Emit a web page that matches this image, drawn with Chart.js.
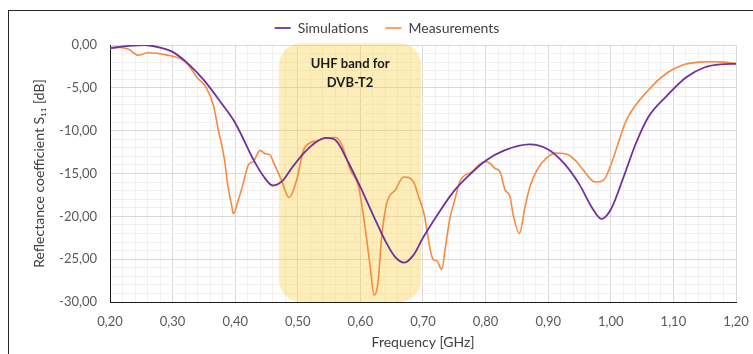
<!DOCTYPE html>
<html>
<head>
<meta charset="utf-8">
<script src="https://cdn.jsdelivr.net/npm/chart.js@4"></script>
<style>
  html, body { margin: 0; padding: 0; background: #fff; overflow: hidden; }
  #wrap { position: relative; width: 753px; height: 354px; }
  #frame { position: absolute; left: 8px; top: 10px; width: 800px; height: 400px; border: 1px solid #262626; box-sizing: border-box; pointer-events: none; }
</style>
</head>
<body>
<div id="wrap">
  <canvas id="chart" width="753" height="354"></canvas>
  <div id="frame"></div>
</div>
<script>
// Simulations (purple)
const simFreq = [0.20, 0.23, 0.255, 0.28, 0.30, 0.325, 0.35, 0.375, 0.40, 0.43, 0.445, 0.46, 0.475, 0.49, 0.51, 0.53, 0.545, 0.56, 0.58, 0.60, 0.62, 0.64, 0.655, 0.67, 0.685, 0.70, 0.725, 0.75, 0.775, 0.80, 0.83, 0.87, 0.90, 0.925, 0.95, 0.97, 0.985, 1.00, 1.02, 1.04, 1.06, 1.09, 1.12, 1.15, 1.175, 1.20];
const simS11 = [-0.35, -0.1, 0.0, -0.3, -0.8, -2.2, -4.1, -6.5, -9.1, -13.5, -15.3, -16.4, -15.9, -14.4, -12.6, -11.3, -10.85, -11.1, -13.6, -16.6, -19.8, -22.9, -24.7, -25.4, -24.5, -22.5, -19.6, -17.0, -15.1, -13.5, -12.3, -11.6, -12.2, -13.8, -16.3, -19.0, -20.3, -19.2, -15.5, -11.5, -8.4, -5.9, -3.8, -2.6, -2.25, -2.2];

// Measurements (orange)
const measFreq = [0.200, 0.215, 0.230, 0.245, 0.261, 0.290, 0.317, 0.330, 0.338, 0.354, 0.365, 0.373, 0.383, 0.387, 0.395, 0.397, 0.405, 0.413, 0.421, 0.429, 0.440, 0.448, 0.455, 0.463, 0.474, 0.486, 0.498, 0.509, 0.520, 0.530, 0.545, 0.560, 0.570, 0.584, 0.597, 0.605, 0.615, 0.622, 0.628, 0.634, 0.642, 0.656, 0.669, 0.685, 0.693, 0.701, 0.716, 0.722, 0.730, 0.736, 0.743, 0.750, 0.759, 0.778, 0.799, 0.807, 0.815, 0.823, 0.831, 0.839, 0.844, 0.854, 0.863, 0.871, 0.882, 0.897, 0.913, 0.932, 0.945, 0.956, 0.975, 0.988, 1.004, 1.017, 1.025, 1.062, 1.089, 1.116, 1.142, 1.158, 1.180, 1.200];
const measS11 = [-0.4, -0.3, -0.5, -1.2, -0.9, -1.15, -1.8, -2.8, -3.7, -5.0, -7.0, -9.9, -13.4, -15.8, -19.0, -19.7, -18.1, -16.1, -14.0, -13.6, -12.3, -12.7, -12.8, -14.0, -15.8, -17.8, -15.8, -12.3, -11.4, -11.2, -10.85, -10.8, -11.6, -14.6, -16.5, -20.0, -25.5, -29.2, -27.8, -22.4, -18.5, -16.9, -15.4, -16.0, -17.7, -19.5, -25.0, -25.2, -26.2, -23.5, -20.2, -18.3, -15.9, -14.8, -13.6, -13.8, -14.4, -14.8, -16.9, -17.7, -19.8, -22.0, -18.9, -16.5, -14.6, -13.2, -12.6, -12.8, -13.6, -14.6, -16.0, -15.8, -13.2, -10.3, -8.75, -5.1, -3.3, -2.3, -2.0, -1.95, -2.0, -2.15];

// UHF band for DVB-T2
const bandFreq = [0.47, 0.697];
const bandLabel = ['UHF band for', 'DVB-T2'];

const xTicks = { min: 0.2, max: 1.2, step: 0.02, major: 0.1 };
const yTicks = { min: -30, max: 0, step: 1, major: 5 };

const FONT = 'Lato, "Open Sans", sans-serif';
const isMajor = (v, m) => Math.abs(v / m - Math.round(v / m)) < 1e-6;
const comma = v => v.toFixed(2).replace('.', ',');

const bandPlugin = {
  id: 'band',
  afterLayout(chart) {
    // legend is centred on the (wider) outer frame in the original
    chart.legend.left += 38;
  },
  beforeDatasetsDraw(chart) {
    const { ctx, scales: { x, y } } = chart;
    const x0 = x.getPixelForValue(bandFreq[0]);
    const x1 = x.getPixelForValue(bandFreq[1]);
    const y0 = y.getPixelForValue(0.2);
    const y1 = y.getPixelForValue(-30);
    ctx.save();
    ctx.fillStyle = 'rgba(250, 210, 80, 0.4)';
    ctx.beginPath();
    ctx.roundRect(x0, y0, x1 - x0, y1 - y0, 22);
    ctx.fill();
    ctx.fillStyle = '#1a1a1a';
    ctx.font = 'bold 13px ' + FONT;
    ctx.textAlign = 'center';
    ctx.textBaseline = 'middle';
    const cx = (x0 + x1) / 2;
    ctx.fillText(bandLabel[0], cx, y0 + 21);
    ctx.fillText(bandLabel[1], cx, y0 + 40);
    ctx.restore();
  }
};

const toPts = (xs, ys) => xs.map((f, i) => ({ x: f, y: ys[i] }));

new Chart(document.getElementById('chart'), {
  type: 'line',
  data: {
    datasets: [
      {
        label: 'Simulations',
        data: toPts(simFreq, simS11),
        borderColor: '#7030a0',
        backgroundColor: '#7030a0',
        borderWidth: 1.8,
        pointRadius: 0,
        cubicInterpolationMode: 'monotone'
      },
      {
        label: 'Measurements',
        data: toPts(measFreq, measS11),
        borderColor: '#f48b42',
        backgroundColor: '#f48b42',
        borderWidth: 1.6,
        pointRadius: 0,
        cubicInterpolationMode: 'monotone'
      }
    ]
  },
  options: {
    responsive: false,
    animation: false,
    events: [],
    layout: { padding: { left: 0, right: 17, top: 4, bottom: 0 } },
    plugins: {
      tooltip: { enabled: false },
      legend: {
        position: 'top',
        labels: {
          usePointStyle: true,
          pointStyle: 'line',
          pointStyleWidth: 16,
          padding: 17,
          color: '#404040',
          font: { family: FONT, size: 14 }
        }
      }
    },
    scales: {
      x: {
        type: 'linear',
        min: xTicks.min,
        max: xTicks.max,
        afterFit: s => { s.height = 52; s.paddingLeft = 0; s.paddingRight = 0; },
        afterBuildTicks: s => {
          s.ticks = [];
          for (let v = xTicks.min; v <= xTicks.max + 1e-9; v += xTicks.step) s.ticks.push({ value: Math.round(v * 100) / 100 });
        },
        ticks: {
          autoSkip: false,
          maxRotation: 0,
          padding: 12,
          color: '#595959',
          font: { family: FONT, size: 13 },
          callback: v => isMajor(v, xTicks.major) ? comma(v) : ''
        },
        grid: {
          drawTicks: false,
          color: c => isMajor(c.tick.value, xTicks.major) ? '#d9d9d9' : '#f0f0f0'
        },
        border: { color: '#1a1a1a', width: 1 },
        title: {
          display: true,
          text: 'Frequency [GHz]',
          color: '#404040',
          font: { family: FONT, size: 14 },
          padding: { top: 4, bottom: 3 }
        }
      },
      y: {
        type: 'linear',
        min: yTicks.min,
        max: yTicks.max,
        afterFit: s => { s.width = 110; },
        afterBuildTicks: s => {
          s.ticks = [];
          for (let v = yTicks.min; v <= yTicks.max; v += yTicks.step) s.ticks.push({ value: v });
        },
        ticks: {
          autoSkip: false,
          padding: 13,
          color: '#595959',
          font: { family: FONT, size: 13 },
          callback: v => isMajor(v, yTicks.major) ? comma(v) : ''
        },
        grid: {
          drawTicks: false,
          color: c => isMajor(c.tick.value, yTicks.major) ? '#d9d9d9' : '#f0f0f0'
        },
        border: { color: '#1a1a1a', width: 1 },
        title: {
          display: true,
          text: 'Reflectance coefficient S\u2081\u2081 [dB]',
          color: '#404040',
          font: { family: FONT, size: 14 },
          padding: { top: 31, bottom: 0 }
        }
      }
    }
  },
  plugins: [bandPlugin]
});
</script>
</body>
</html>
